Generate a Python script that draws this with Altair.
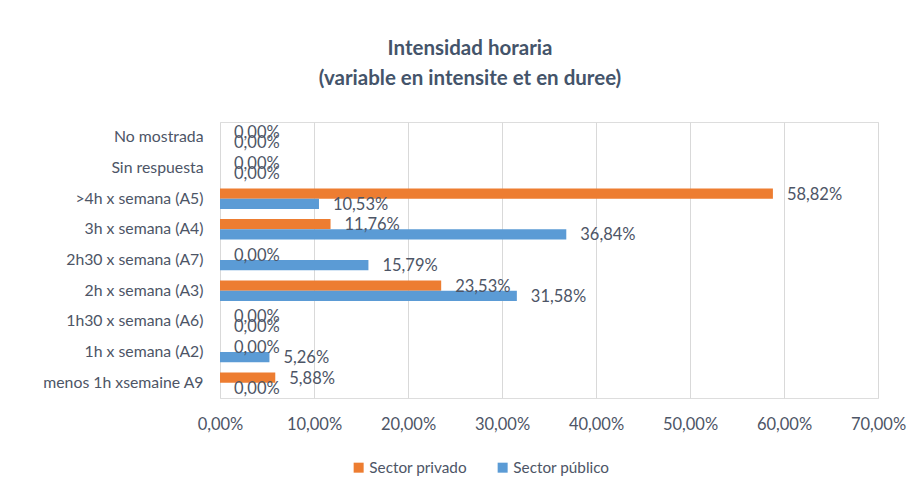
import altair as alt
import pandas as pd

categories = ["No mostrada", "Sin respuesta", ">4h x semana (A5)", "3h x semana (A4)",
              "2h30  x semana (A7)", "2h x semana (A3)", "1h30 x semana (A6)",
              "1h x semana (A2)", "menos 1h xsemaine A9"]
privado = [0.0, 0.0, 58.82, 11.76, 0.0, 23.53, 0.0, 0.0, 5.88]
publico = [0.0, 0.0, 10.53, 36.84, 15.79, 31.58, 0.0, 5.26, 0.0]
series = ["Sector privado", "Sector público"]
x_ticks = [0, 10, 20, 30, 40, 50, 60, 70]

rows = []
for c, a, b in zip(categories, privado, publico):
    rows.append({"cat": c, "serie": series[0], "v": a})
    rows.append({"cat": c, "serie": series[1], "v": b})
df = pd.DataFrame(rows)
df["label"] = df["v"].map(lambda v: f"{v:.2f}".replace(".", ",") + "%")

FONT = "Lato"
TXT = "#4D5566"
FS = 16.5

y = alt.Y("cat:N", sort=categories, title=None,
          scale=alt.Scale(paddingInner=0.33, paddingOuter=0.165),
          axis=alt.Axis(labelFontSize=15.8, labelColor=TXT, labelFont=FONT,
                        ticks=False, domain=False, labelPadding=17, grid=False))
x = alt.X("v:Q", title=None,
          scale=alt.Scale(domain=[0, 70], nice=False),
          axis=alt.Axis(values=x_ticks, labelExpr="replace(format(datum.value, '.2f'), '.', ',') + '%'",
                        labelFontSize=FS, labelColor=TXT, labelFont=FONT, labelFlush=False,
                        ticks=False, domain=False, labelPadding=18,
                        grid=True, gridColor="#D9D9D9", gridWidth=1))
yoff = alt.YOffset("serie:N", sort=series)

bars = alt.Chart(df).mark_bar().encode(
    y=y, x=x, yOffset=yoff,
    color=alt.Color("serie:N", sort=series,
                    scale=alt.Scale(domain=series, range=["#ED7D31", "#5B9BD5"]),
                    legend=alt.Legend(title=None, orient="none", legendX=131, legendY=338,
                                      direction="horizontal", symbolType="square",
                                      symbolSize=100, symbolStrokeWidth=0,
                                      labelFontSize=15.3, labelColor=TXT, labelFont=FONT,
                                      columnPadding=28, labelOffset=3))
)

labels = alt.Chart(df).mark_text(align="left", baseline="middle", dx=14, dy=1,
                                 fontSize=FS, font=FONT, color=TXT).encode(
    y=alt.Y("cat:N", sort=categories), x=alt.X("v:Q"), yOffset=yoff, text="label:N"
)

chart = (bars + labels).properties(
    width=658, height=276,
    title=alt.TitleParams(["Intensidad horaria", "(variable en intensite et en duree)"],
                          fontSize=20.5, fontWeight="bold", color="#44546A", font=FONT,
                          anchor="middle", dx=-79, offset=33, lineHeight=30),
    autosize=alt.AutoSizeParams(type="none"),
    padding={"left": 212, "top": 114, "right": 36, "bottom": 87},
).configure_view(stroke=None).configure(background="white")

chart.save("out.html", embed_options={"renderer": "svg", "actions": False})
